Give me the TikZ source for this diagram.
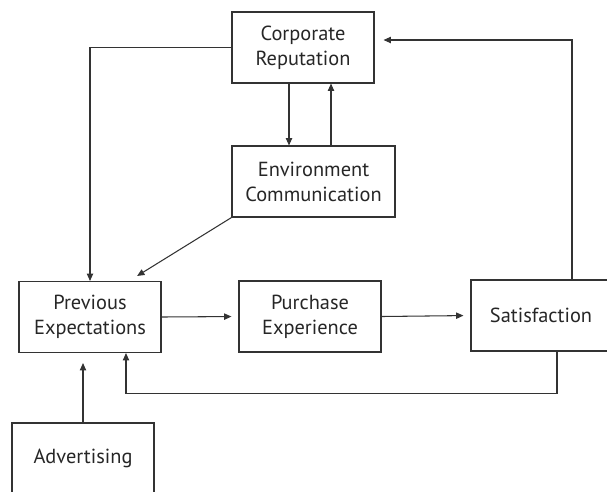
\documentclass[tikz,border=0pt]{standalone}
\usepackage{fontspec}
\setmainfont{PT Sans}
\usepackage{tikz}
\usetikzlibrary{arrows.meta}
\tikzset{>/.tip={Triangle[length=4.2pt,width=3.6pt]},
  box/.style={draw=black!80, line width=0.6pt, text=black!85, align=center,
    minimum width=2.84cm, minimum height=1.42cm, inner sep=0pt,
    font=\fontsize{11.6}{14.2}\selectfont},
  link/.style={draw=black!80, line width=0.6pt}}

\begin{document}
\begin{tikzpicture}[x=0.02cm, y=-0.02cm]
\clip (0,0) rectangle (607,491);
\useasboundingbox (0,0) rectangle (607,491);
\node[box] (corp) at (303,47.5) {Corporate\\Reputation};
\node[box, minimum width=3.26cm] (env) at (313.5,181.5) {Environment\\Communication};
\node[box] (prev) at (90,317) {Previous\\Expectations};
\node[box] (purch) at (310,316.5) {Purchase\\Experience};
\node[box, minimum width=2.8cm] (sat) at (541,315.5) {Satisfaction};
\node[box] (adv) at (83,458.5) {Advertising};
\draw[link,->] (corp.west) -| (prev.north);
\draw[link,->] ([xshift=0.62cm]sat.north) |- ([yshift=0.15cm]corp.east) [shorten >=0.18cm];
\draw[link,->] ([xshift=-0.28cm]corp.south) -- ([xshift=-0.28cm]corp.south |- env.north);
\draw[link,->] ([xshift=0.56cm]corp.south |- env.north) -- ([xshift=0.56cm]corp.south);
\draw[link,->,shorten >=0.19cm] (env.south west) -- ([xshift=0.78cm]prev.north);
\draw[link,->,shorten >=0.14cm] (prev.east) -- (purch.west);
\draw[link,->,shorten >=0.14cm] (purch.east) -- (sat.west);
\draw[link,->] ([xshift=0.32cm]sat.south) -- ++(0,42) -| ([xshift=0.72cm]prev.south);
\draw[link,->,shorten >=0.2cm] (adv.north) -- (adv.north |- prev.south);
\end{tikzpicture}
\end{document}
